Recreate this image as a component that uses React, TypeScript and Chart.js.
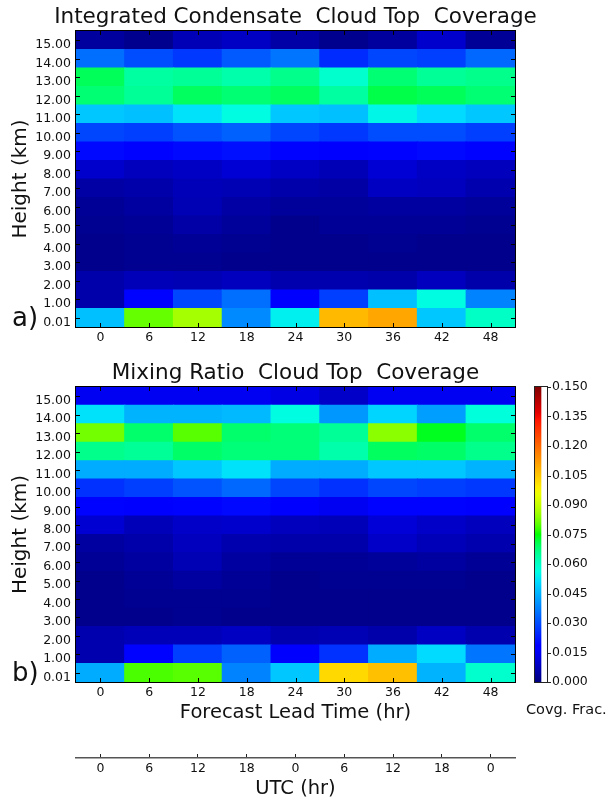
import { useEffect, useRef } from 'react';
import { Chart, registerables } from 'chart.js';

Chart.register(...registerables);

const FONT = "'DejaVu Sans', 'Liberation Sans', sans-serif";
const TEXT = '#111';

// ---------- data ----------
const leadTimes = ['0', '6', '12', '18', '24', '30', '36', '42', '48'];
const utcHours = ['0', '6', '12', '18', '0', '6', '12', '18', '0'];
const heightLabels = ['0.01', '1.00', '2.00', '3.00', '4.00', '5.00', '6.00', '7.00', '8.00', '9.00', '10.00', '11.00', '12.00', '13.00', '14.00', '15.00'];
const colorbarTicks = [0, 0.015, 0.03, 0.045, 0.06, 0.075, 0.09, 0.105, 0.12, 0.135, 0.15];
const colorMin = 0;
const colorMax = 0.15;

// rows from 0.01 km (bottom) to 15.00 km (top), columns = lead times
const condensateCoverage = [
  [0.047, 0.081, 0.0865, 0.039, 0.054, 0.107, 0.110, 0.048, 0.060],
  [0.0055, 0.019, 0.029, 0.035, 0.018, 0.028, 0.047, 0.056, 0.038],
  [0.0055, 0.0074, 0.0068, 0.0081, 0.0062, 0.0062, 0.0055, 0.0081, 0.0055],
  [0.0016, 0.0023, 0.0023, 0.0016, 0.0016, 0.0016, 0.0016, 0.0016, 0.0016],
  [0.0016, 0.0023, 0.0030, 0.0023, 0.0016, 0.0016, 0.0023, 0.0016, 0.0016],
  [0.0023, 0.0030, 0.0050, 0.0036, 0.0017, 0.0030, 0.0030, 0.0030, 0.0023],
  [0.0030, 0.0042, 0.0068, 0.0049, 0.0036, 0.0036, 0.0042, 0.0042, 0.0036],
  [0.0049, 0.0055, 0.0074, 0.0068, 0.0055, 0.0049, 0.0087, 0.0081, 0.0062],
  [0.010, 0.008, 0.009, 0.011, 0.009, 0.007, 0.011, 0.009, 0.008],
  [0.020, 0.019, 0.020, 0.021, 0.019, 0.017, 0.019, 0.020, 0.019],
  [0.029, 0.028, 0.031, 0.033, 0.029, 0.027, 0.030, 0.030, 0.028],
  [0.048, 0.047, 0.052, 0.056, 0.048, 0.047, 0.055, 0.051, 0.048],
  [0.068, 0.065, 0.0695, 0.068, 0.0695, 0.064, 0.071, 0.070, 0.068],
  [0.070, 0.064, 0.065, 0.063, 0.066, 0.059, 0.068, 0.065, 0.066],
  [0.035, 0.030, 0.027, 0.032, 0.036, 0.025, 0.029, 0.028, 0.034],
  [0.004, 0.002, 0.007, 0.009, 0.005, 0.002, 0.004, 0.010, 0.003],
];

const mixingRatioCoverage = [
  [0.044, 0.079, 0.080, 0.038, 0.048, 0.102, 0.106, 0.045, 0.059],
  [0.0062, 0.019, 0.028, 0.033, 0.018, 0.026, 0.044, 0.051, 0.036],
  [0.0062, 0.0074, 0.0074, 0.0087, 0.0062, 0.0068, 0.0055, 0.0087, 0.0062],
  [0.0016, 0.0016, 0.0023, 0.0016, 0.0016, 0.0016, 0.0016, 0.0016, 0.0016],
  [0.0016, 0.0023, 0.0023, 0.0023, 0.0016, 0.0016, 0.0016, 0.0016, 0.0016],
  [0.0016, 0.0030, 0.0042, 0.0030, 0.0016, 0.0023, 0.0023, 0.0023, 0.0016],
  [0.0030, 0.0042, 0.0068, 0.0042, 0.0030, 0.0030, 0.0036, 0.0042, 0.0030],
  [0.0042, 0.0055, 0.0081, 0.0062, 0.0055, 0.0055, 0.0094, 0.0074, 0.0062],
  [0.0107, 0.0074, 0.0094, 0.010, 0.008, 0.0074, 0.0113, 0.0094, 0.008],
  [0.019, 0.018, 0.019, 0.020, 0.018, 0.015, 0.019, 0.019, 0.018],
  [0.026, 0.028, 0.031, 0.034, 0.029, 0.026, 0.029, 0.028, 0.027],
  [0.044, 0.044, 0.048, 0.052, 0.044, 0.044, 0.048, 0.048, 0.045],
  [0.066, 0.065, 0.069, 0.0675, 0.0675, 0.063, 0.0695, 0.069, 0.066],
  [0.082, 0.0686, 0.080, 0.0686, 0.0675, 0.065, 0.084, 0.0735, 0.0686],
  [0.052, 0.045, 0.045, 0.046, 0.056, 0.041, 0.050, 0.042, 0.057],
  [0.015, 0.015, 0.015, 0.015, 0.013, 0.0094, 0.015, 0.015, 0.015],
];

// ---------- jet colormap (rendered fully saturated, as in the reference print) ----------
const jetR = [[0, 0], [0.35, 0], [0.66, 1], [0.89, 1], [1, 0.5]];
const jetG = [[0, 0], [0.125, 0], [0.375, 1], [0.64, 1], [0.91, 0], [1, 0]];
const jetB = [[0, 0.5], [0.11, 1], [0.34, 1], [0.65, 0], [1, 0]];

function seg(s: number[][], t: number) {
  for (let i = 1; i < s.length; i++) {
    if (t <= s[i][0]) {
      const [x0, y0] = s[i - 1];
      const [x1, y1] = s[i];
      return y0 + ((t - x0) / (x1 - x0)) * (y1 - y0);
    }
  }
  return s[s.length - 1][1];
}
function jet(t: number) {
  const c = Math.max(0, Math.min(1, t));
  let r = seg(jetR, c);
  let g = seg(jetG, c);
  let b = seg(jetB, c);
  const mx = Math.max(r, g, b);
  const mn = Math.min(r, g, b);
  if (mx - mn > 1e-6) {
    r = ((r - mn) / (mx - mn)) * mx;
    g = ((g - mn) / (mx - mn)) * mx;
    b = ((b - mn) / (mx - mn)) * mx;
  }
  return `rgb(${Math.round(r * 255)},${Math.round(g * 255)},${Math.round(b * 255)})`;
}
function colorFor(v: number) {
  return jet((v - colorMin) / (colorMax - colorMin));
}

// ---------- frame + ticks ----------
const framePlugin = {
  id: 'frame',
  afterDatasetsDraw(chart: any, _args: any, opts: any) {
    if (!opts || !opts.show) return;
    const { ctx, chartArea: a } = chart;
    const len = opts.tickLen ?? 4;
    ctx.save();
    ctx.strokeStyle = opts.color || '#000';
    ctx.lineWidth = 1;
    ctx.beginPath();
    if (opts.xTicks) {
      const xs = chart.scales.x;
      xs.ticks.forEach((_t: any, i: number) => {
        const px = Math.round(xs.getPixelForTick(i)) + 0.5;
        ctx.moveTo(px, a.top);
        ctx.lineTo(px, a.top + len);
        ctx.moveTo(px, a.bottom);
        ctx.lineTo(px, a.bottom - len);
      });
    }
    if (opts.yTicks) {
      const ys = chart.scales.y;
      ys.ticks.forEach((t: any) => {
        const py = Math.round(ys.getPixelForValue(t.value)) + 0.5;
        if (opts.yTicks === 'both') {
          ctx.moveTo(a.left, py);
          ctx.lineTo(a.left + len, py);
          ctx.moveTo(a.right, py);
          ctx.lineTo(a.right - len, py);
        } else if (opts.yTicks === 'rightOut') {
          ctx.moveTo(a.right, py);
          ctx.lineTo(a.right + len, py);
        }
      });
    }
    ctx.stroke();
    ctx.strokeRect(Math.round(a.left) - 0.5, Math.round(a.top) - 0.5, Math.round(a.right - a.left) + 1, Math.round(a.bottom - a.top) + 1);
    ctx.restore();
  },
};

const tickFont = { family: FONT, size: 12.5, weight: 'normal' as const };

function heatmapConfig(values: number[][], title: string, xTitle: string | null): any {
  return {
    type: 'bar',
    data: {
      labels: leadTimes,
      datasets: heightLabels.map((h, r) => ({
        label: h,
        yAxisID: 'y',
        data: leadTimes.map(() => [r, r + 1]),
        backgroundColor: values[r].map(colorFor),
        borderWidth: 0,
        grouped: false,
        barPercentage: 1,
        categoryPercentage: 1,
        inflateAmount: 0.6,
      })),
    },
    options: {
      animation: false,
      responsive: false,
      maintainAspectRatio: false,
      devicePixelRatio: 1,
      events: [],
      layout: { padding: 0 },
      plugins: {
        legend: { display: false },
        tooltip: { enabled: false },
        title: {
          display: true,
          text: title,
          color: TEXT,
          font: { family: FONT, size: 21.5, weight: 'normal', lineHeight: 1.2 },
          padding: { top: 5, bottom: 0.2 },
        },
        frame: { show: true, xTicks: true, yTicks: 'both', tickLen: 4, color: '#000' },
      },
      scales: {
        x: {
          type: 'category',
          offset: true,
          grid: { display: false, drawTicks: false },
          border: { display: false },
          ticks: { font: tickFont, color: TEXT, padding: 3, maxRotation: 0, autoSkip: false },
          title: xTitle
            ? { display: true, text: xTitle, color: TEXT, font: { family: FONT, size: 19.5, weight: 'normal', lineHeight: 1.2 }, padding: { top: 0, bottom: 1 } }
            : { display: false },
          afterFit: (s: any) => { s.height = xTitle ? 44 : 23; },
        },
        y: {
          type: 'linear',
          position: 'left',
          min: 0,
          max: heightLabels.length,
          grid: { display: false, drawTicks: false },
          border: { display: false },
          afterBuildTicks: (s: any) => { s.ticks = heightLabels.map((_h, i) => ({ value: i + 0.5 })); },
          ticks: {
            font: tickFont,
            color: TEXT,
            padding: 5,
            labelOffset: 4.5,
            autoSkip: false,
            callback: (_v: any, i: number) => heightLabels[i],
          },
          title: { display: true, text: 'Height (km)', color: TEXT, font: { family: FONT, size: 20, weight: 'normal', lineHeight: 1.2 }, padding: { top: 9, bottom: 0 } },
          afterFit: (s: any) => { s.width = 76; },
        },
        yRight: {
          type: 'linear',
          position: 'right',
          grid: { display: false, drawTicks: false },
          border: { display: false },
          ticks: { display: false },
          afterFit: (s: any) => { s.width = 76; },
        },
      },
    },
    plugins: [framePlugin],
  };
}

function colorbarConfig(): any {
  return {
    type: 'bar',
    data: {
      labels: ['Covg. Frac.'],
      datasets: [
        {
          data: [[colorMin, colorMax]],
          yAxisID: 'y',
          borderWidth: 0,
          barPercentage: 1,
          categoryPercentage: 1,
          backgroundColor: (ctx: any) => {
            const chart = ctx.chart;
            const ys = chart.scales.y;
            if (!chart.chartArea || !ys) return colorFor(colorMin);
            const g = chart.ctx.createLinearGradient(0, ys.getPixelForValue(colorMin), 0, ys.getPixelForValue(colorMax));
            for (let i = 0; i <= 80; i++) g.addColorStop(i / 80, jet(i / 80));
            return g;
          },
        },
      ],
    },
    options: {
      animation: false,
      responsive: false,
      maintainAspectRatio: false,
      devicePixelRatio: 1,
      events: [],
      layout: { padding: { left: 15, top: 17, right: 0, bottom: 20 } },
      plugins: {
        legend: { display: false },
        tooltip: { enabled: false },
        frame: { show: true, yTicks: 'rightOut', tickLen: 4, color: '#222' },
      },
      scales: {
        x: { display: false, offset: false },
        y: {
          type: 'linear',
          position: 'right',
          min: colorMin,
          max: colorMax,
          grid: { display: false, drawTicks: false },
          border: { display: false },
          afterBuildTicks: (s: any) => { s.ticks = colorbarTicks.map((v) => ({ value: v })); },
          ticks: {
            font: tickFont,
            color: TEXT,
            padding: 5,
            autoSkip: false,
            callback: (_v: any, i: number) => colorbarTicks[i].toFixed(3),
          },
          afterFit: (s: any) => { s.width = 62; },
        },
      },
    },
    plugins: [framePlugin],
  };
}

function utcConfig(): any {
  return {
    type: 'line',
    data: { labels: utcHours, datasets: [] },
    options: {
      animation: false,
      responsive: false,
      maintainAspectRatio: false,
      devicePixelRatio: 1,
      events: [],
      layout: { padding: { top: 16, left: 0, right: 0, bottom: 0 } },
      plugins: { legend: { display: false }, tooltip: { enabled: false } },
      scales: {
        x: {
          type: 'category',
          offset: true,
          grid: { display: true, drawOnChartArea: true, drawTicks: false, offset: false, color: '#222', lineWidth: 1 },
          border: { display: true, color: '#555', width: 1.5 },
          ticks: { font: tickFont, color: TEXT, padding: 3, maxRotation: 0, autoSkip: false },
          title: { display: true, text: 'UTC (hr)', color: TEXT, font: { family: FONT, size: 19.5, weight: 'normal', lineHeight: 1.2 }, padding: { top: 0, bottom: 0 } },
          afterFit: (s: any) => { s.height = 43; },
        },
        y: {
          type: 'linear',
          position: 'left',
          grid: { display: false, drawTicks: false },
          border: { display: false },
          ticks: { display: false },
          afterFit: (s: any) => { s.width = 76; },
        },
        y2: {
          type: 'linear',
          position: 'right',
          grid: { display: false, drawTicks: false },
          border: { display: false },
          ticks: { display: false },
          afterFit: (s: any) => { s.width = 76; },
        },
      },
    },
  };
}

function Canvas({ cref, left, top, width, height }: any) {
  return (
    <div style={{ position: 'absolute', left, top, width, height }}>
      <canvas ref={cref} width={width} height={height} style={{ width, height, display: 'block' }} />
    </div>
  );
}

export default function App() {
  const aRef = useRef<HTMLCanvasElement>(null);
  const bRef = useRef<HTMLCanvasElement>(null);
  const cbRef = useRef<HTMLCanvasElement>(null);
  const utcRef = useRef<HTMLCanvasElement>(null);

  useEffect(() => {
    document.body.style.margin = '0';
    const charts = [
      new Chart(aRef.current as HTMLCanvasElement, heatmapConfig(condensateCoverage, 'Integrated Condensate  Cloud Top  Coverage', null)),
      new Chart(bRef.current as HTMLCanvasElement, heatmapConfig(mixingRatioCoverage, 'Mixing Ratio  Cloud Top  Coverage', 'Forecast Lead Time (hr)')),
      new Chart(cbRef.current as HTMLCanvasElement, colorbarConfig()),
      new Chart(utcRef.current as HTMLCanvasElement, utcConfig()),
    ];
    return () => charts.forEach((c) => c.destroy());
  }, []);

  const panelLabel = { position: 'absolute' as const, left: 12, fontSize: 26, lineHeight: '26px', color: TEXT, fontFamily: FONT };

  return (
    <div style={{ position: 'relative', width: 609, height: 798, overflow: 'hidden', background: '#fff', fontFamily: FONT }}>
      <Canvas cref={aRef} left={0} top={0} width={591} height={350} />
      <Canvas cref={bRef} left={0} top={356} width={591} height={370} />
      <Canvas cref={cbRef} left={520} top={370} width={89} height={332} />
      <Canvas cref={utcRef} left={0} top={738} width={591} height={63} />
      <div style={{ ...panelLabel, top: 304 }}>a)</div>
      <div style={{ ...panelLabel, top: 659 }}>b)</div>
      <div style={{ position: 'absolute', left: 526, top: 701, fontSize: 14.5, lineHeight: '17px', color: TEXT, fontFamily: FONT, whiteSpace: 'nowrap' }}>Covg. Frac.</div>
    </div>
  );
}
